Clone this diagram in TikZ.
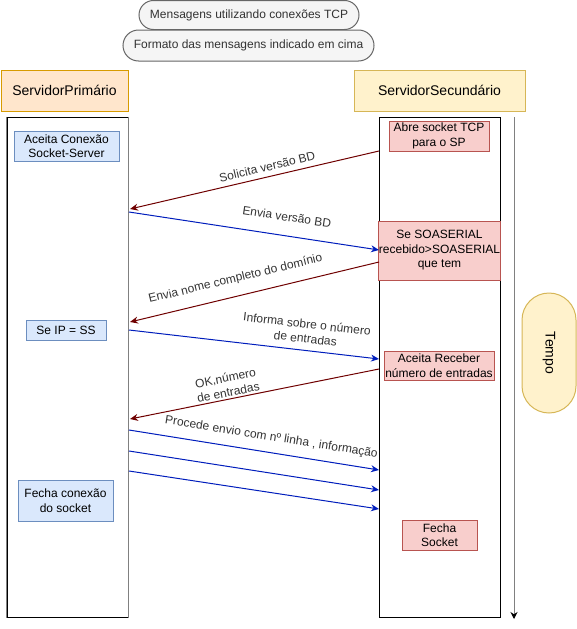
\documentclass[tikz,border=0pt]{standalone}
\usepackage{fontspec}
\setmainfont{Liberation Sans}
\usetikzlibrary{arrows.meta}

\definecolor{msgred}{HTML}{6F0000}
\definecolor{msgblue}{HTML}{001DBC}
\definecolor{bluefill}{HTML}{DAE8FC}
\definecolor{bluedraw}{HTML}{6C8EBF}
\definecolor{redfill}{HTML}{F8CECC}
\definecolor{reddraw}{HTML}{B85450}
\definecolor{orangefill}{HTML}{FFE6CC}
\definecolor{orangedraw}{HTML}{D79B00}
\definecolor{yellowfill}{HTML}{FFF2CC}
\definecolor{yellowdraw}{HTML}{D6B656}
\definecolor{notefill}{HTML}{F5F5F5}
\definecolor{notedraw}{HTML}{666666}
\definecolor{notetext}{HTML}{333333}

\begin{document}
\begin{tikzpicture}[x=1pt, y=-1pt, line width=1pt,
  box_blue/.style={fill=bluefill, draw=bluedraw, inner sep=0pt, align=center, font=\fontsize{12}{14.5}\selectfont},
  box_red/.style={fill=redfill, draw=reddraw, inner sep=0pt, align=center, font=\fontsize{12}{14.5}\selectfont},
  header_orange/.style={fill=orangefill, draw=orangedraw, inner sep=0pt, font=\fontsize{14}{16}\selectfont},
  header_yellow/.style={fill=yellowfill, draw=yellowdraw, inner sep=0pt, font=\fontsize{14}{16}\selectfont},
  note_gray/.style={fill=notefill, draw=notedraw, text=notetext, inner sep=0pt, font=\fontsize{12}{14}\selectfont},
  lifeline/.style={draw=black, inner sep=0pt, minimum width=121pt, minimum height=500pt},
  msg_red/.style={draw=msgred, -{Stealth[length=8pt,width=7pt]}},
  msg_blue/.style={draw=msgblue, -{Stealth[length=8pt,width=7pt]}},
  msg_label/.style={sloped, text=black!80, inner sep=1pt, align=center, font=\fontsize{12}{14.5}\selectfont}]

\useasboundingbox (0,0) rectangle (577,629);

% notas no topo
\node[note_gray, rounded corners=14.5pt, minimum width=220pt, minimum height=29pt] (nota1) at (249,15) {Mensagens utilizando conexões TCP};
\node[note_gray, rounded corners=15.5pt, minimum width=251pt, minimum height=31pt] (nota2) at (248.5,45.5) {Formato das mensagens indicado em cima};

% servidores
\node[header_orange, minimum width=127pt, minimum height=41pt] (sp) at (64.5,90.5) {ServidorPrimário};
\node[header_yellow, minimum width=171pt, minimum height=41pt] (ss) at (439.5,90.5) {ServidorSecundário};

\node[lifeline] (life_sp) at (67.5,367) {};
\node[lifeline] (life_ss) at (439.5,367) {};
\draw[gray, line width=1.5pt] (life_sp.north west) -- (life_sp.south west);
\draw[gray, line width=1.5pt] (life_sp.north east) -- (life_sp.south east);

% acoes do primario
\node[box_blue, minimum width=105pt, minimum height=30pt] (aceita_con) at (66.5,146) {Aceita Conexão\\Socket-Server};
\node[box_blue, minimum width=80pt, minimum height=20pt] (se_ip) at (66,330) {Se IP = SS};
\node[box_blue, minimum width=95pt, minimum height=41pt] (fecha_con) at (65.5,500.5) {Fecha conexão\\do socket};

% acoes do secundario
\node[box_red, minimum width=100pt, minimum height=30pt] (abre_sock) at (439,136) {Abre socket TCP\\para o SP};
\node[box_red, minimum width=113pt, minimum height=59pt] (se_soa) at (439.5,250.5) {Se SOASERIAL\\recebido>SOASERIAL\\que tem};
\node[box_red, minimum width=110pt, minimum height=29pt] (aceita_rec) at (439,365.5) {Aceita Receber\\número de entradas};
\node[box_red, minimum width=75pt, minimum height=30pt] (fecha_sock) at (439.5,535) {Fecha\\Socket};

% tempo
\node[header_yellow, rounded corners=27pt, minimum width=54pt, minimum height=120pt] (tempo) at (549,353) {};
\node[rotate=-90, font=\fontsize{14}{16}\selectfont] (tempo_txt) at (tempo.center) {Tempo};
\coordinate (t0) at (514,117);
\coordinate (t1) at (514,619);
\draw[gray, -{Stealth[black,length=7pt,width=7pt]}] (t0) -- (t1);

% pontas das mensagens
\coordinate (s1) at (379,151);
\coordinate (p1) at (130,209);
\coordinate (p2) at (129,212);
\coordinate (s2) at (379,250);
\coordinate (s3) at (379,262);
\coordinate (p3) at (130,322);
\coordinate (p4) at (129,330);
\coordinate (s4) at (379,359);
\coordinate (s5) at (379,369);
\coordinate (p5) at (130,419);
\coordinate (p6) at (129,430);
\coordinate (s6) at (379,470);
\coordinate (p7) at (129,451);
\coordinate (s7) at (379,490);
\coordinate (p8) at (129,471);
\coordinate (s8) at (379,509);

\draw[msg_red] (s1) -- node[msg_label, above=4pt, pos=0.44] (m1) {Solicita versão BD} (p1);
\draw[msg_blue] (p2) -- node[msg_label, above=13pt, pos=0.62] (m2) {Envia versão BD} (s2);
\draw[msg_red] (s3) -- node[msg_label, above=10pt, pos=0.56] (m3) {Envia nome completo do domínio} (p3);
\draw[msg_blue] (p4) -- node[msg_label, above=6pt, pos=0.70] (m4) {Informa sobre o número\\de entradas} (s4);
\draw[msg_red] (s5) -- node[msg_label, above=1pt, pos=0.60] (m5) {OK,número\\de entradas} (p5);
\draw[msg_blue] (p6) -- node[msg_label, above=8pt, pos=0.56] (m6) {Procede envio com nº linha , informação} (s6);
\draw[msg_blue] (p7) -- (s7);
\draw[msg_blue] (p8) -- (s8);

\end{tikzpicture}
\end{document}
